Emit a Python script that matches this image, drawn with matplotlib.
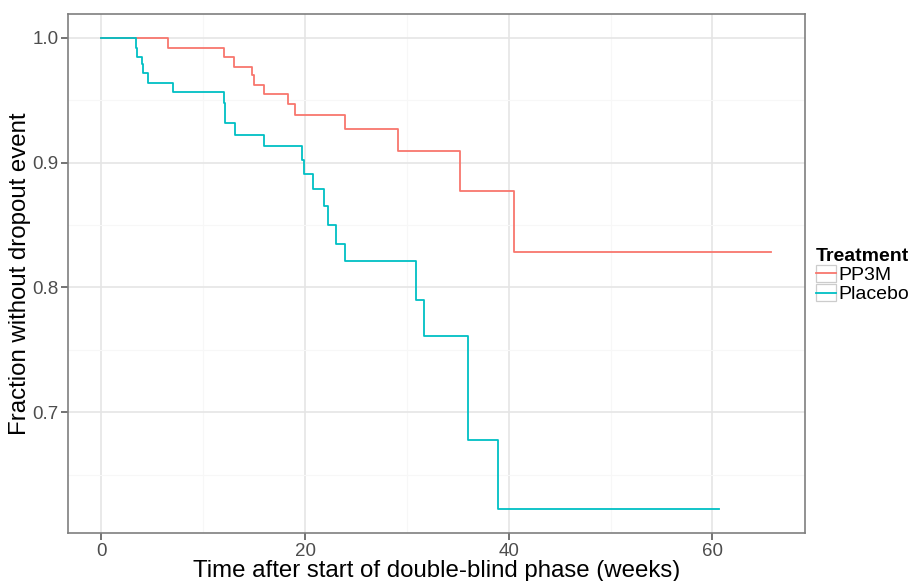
import matplotlib
matplotlib.use("Agg")
import matplotlib.pyplot as plt
from matplotlib.legend_handler import HandlerLine2D
from matplotlib.lines import Line2D
from matplotlib.patches import Rectangle

plt.rcParams['font.family'] = ['Liberation Sans', 'DejaVu Sans']

# Kaplan-Meier step data (weeks, fraction)
pp3m_time = [0, 6.57, 12.05, 12.97, 14.8, 15.0, 16.0, 18.3, 19.0, 23.9, 29.1, 35.2, 40.5, 65.8]
pp3m_surv = [1.0, 0.992, 0.985, 0.977, 0.970, 0.962, 0.955, 0.947, 0.938, 0.927, 0.909, 0.877, 0.828, 0.828]

placebo_time = [0, 3.35, 3.45, 3.94, 4.1, 4.57, 7.03, 12.05, 12.15, 13.1, 16.0, 19.7, 19.93,
                20.75, 21.9, 22.2, 23.0, 23.9, 30.9, 31.65, 35.96, 38.98, 60.65]
placebo_surv = [1.0, 0.992, 0.985, 0.979, 0.972, 0.964, 0.957, 0.948, 0.932, 0.922, 0.913, 0.902, 0.891,
                0.879, 0.865, 0.850, 0.835, 0.821, 0.790, 0.761, 0.678, 0.622, 0.622]

groups = ['PP3M', 'Placebo']
colors = ['#F8766D', '#00BFC4']

x_ticks = [0, 20, 40, 60]
x_minor = [10, 30, 50]
y_ticks = [0.7, 0.8, 0.9, 1.0]
y_minor = [0.65, 0.75, 0.85, 0.95]


class BoxedLine(HandlerLine2D):
    # ggplot style legend key: grey bordered square with a line
    def create_artists(self, legend, orig_handle, xdescent, ydescent, width, height, fontsize, trans):
        box = Rectangle((-xdescent, -ydescent), width, height, facecolor='white',
                        edgecolor='#CCCCCC', lw=0.9, transform=trans)
        y = -ydescent + height / 2
        ln = Line2D([-xdescent, -xdescent + width], [y, y], color=orig_handle.get_color(),
                    lw=orig_handle.get_linewidth(), transform=trans)
        return [box, ln]


fig = plt.figure(figsize=(9.15, 5.81), dpi=100)
ax = fig.add_axes([0.0743, 0.0826, 0.8055, 0.8933])

ax.set_xlim(-3.29, 69.1)
ax.set_ylim(0.6031, 1.0192)

ax.set_xticks(x_ticks)
ax.set_xticks(x_minor, minor=True)
ax.set_yticks(y_ticks)
ax.set_yticks(y_minor, minor=True)
ax.set_yticklabels(['%.1f' % v for v in y_ticks])

ax.grid(which='major', color='#E5E5E5', lw=1.2)
ax.grid(which='minor', color='#F7F7F7', lw=0.8)
ax.set_axisbelow(True)

handles = []
for t, s, c, name in zip([pp3m_time, placebo_time], [pp3m_surv, placebo_surv], colors, groups):
    h, = ax.step(t, s, where='post', color=c, lw=1.3, label=name)
    handles.append(h)

for sp in ax.spines.values():
    sp.set_color('#7F7F7F')
    sp.set_linewidth(1.2)

ax.tick_params(which='major', length=5, width=1.1, color='#4D4D4D', labelcolor='#4D4D4D',
               labelsize=13.5, pad=2)
ax.tick_params(which='minor', length=0)

ax.set_xlabel('Time after start of double-blind phase (weeks)', fontsize=17.3, labelpad=0)
ax.set_ylabel('Fraction without dropout event', fontsize=17.3, labelpad=1)

leg = fig.legend(handles, groups, title='Treatment', loc='upper left',
                 bbox_to_anchor=(0.892, 0.574), frameon=False, fontsize=14,
                 title_fontproperties={'weight': 'bold', 'size': 14},
                 handler_map={Line2D: BoxedLine()}, handlelength=1.0, handleheight=1.0,
                 handletextpad=0.15, labelspacing=0.0, borderaxespad=0, borderpad=0,
                 alignment='left')

fig.savefig('out.png', dpi=100)
